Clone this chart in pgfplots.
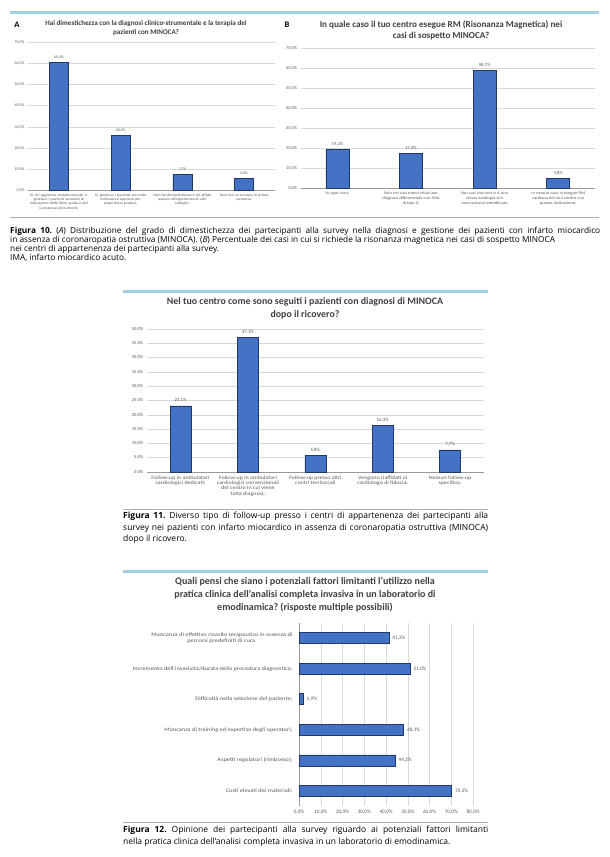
\documentclass[border=0pt]{standalone}
\usepackage{pgfplots}
\pgfplotsset{compat=1.18}
\usepackage{fontspec}
\setmainfont{Carlito}
\newfontfamily\lab[FakeStretch=1.2]{Carlito}
\newfontfamily\capfont{Open Sans}
\frenchspacing
\definecolor{barblue}{HTML}{4472C4}
\definecolor{baredge}{HTML}{1F3864}
\definecolor{sepblue}{HTML}{A3CFE6}
\definecolor{gridgray}{HTML}{D9D9D9}
\definecolor{ticktext}{HTML}{595959}
\definecolor{titletext}{HTML}{404040}
\pgfplotsset{
  /pgf/number format/assume math mode=true,
  vbars/.style={
    scale only axis, anchor=south west,
    ybar, axis lines*=left,
    y axis line style={draw=none},
    x axis line style={draw=gridgray!70!black, line width=0.5pt},
    major tick length=0pt,
    ymajorgrids, grid style={draw=gridgray, line width=0.5pt},
    xtick=data,
    yticklabel={\pgfmathprintnumber[use comma,fixed,fixed zerofill,precision=1]{\tick}\%},
    nodes near coords={\pgfmathprintnumber[use comma,fixed,fixed zerofill,precision=1]{\pgfplotspointmeta}\%},
    every node near coord/.append style={text=ticktext},
    tick label style={text=ticktext},
    xticklabel style={align=center, anchor=north},
    clip=false,
  },
  mybar/.style={fill=barblue, draw=baredge, line width=0.5pt},
}
\begin{document}
\frenchspacing
\begin{tikzpicture}[x=1pt,y=1pt]
\useasboundingbox (0pt,0pt) rectangle (610pt,857pt);
\fill[white] (0pt,0pt) rectangle (610pt,857pt);

% ---------- Figure 10 ----------
\draw[sepblue, line width=3pt] (10pt,844pt) -- (599pt,844pt);
\node[font=\bfseries\fontsize{8.5}{9}\selectfont, text=black] at (17pt,832pt) {A};
\node[font=\bfseries\fontsize{8.5}{9}\selectfont, text=black] at (287pt,832pt) {B};
\node[font=\bfseries\fontsize{7.1}{9}\selectfont, text=titletext, align=center] at (146pt,828.5pt)
  {Hai dimestichezza con la diagnosi clinico-strumentale e la terapia dei\\pazienti con MINOCA?};
\node[font=\bfseries\fontsize{9.1}{11}\selectfont, text=titletext, align=center] at (441pt,826.5pt)
  {In quale caso il tuo centro esegue RM (Risonanza Magnetica) nei\\casi di sospetto MINOCA?};

\begin{axis}[vbars, at={(28pt,666.3pt)}, width=247pt, height=148.7pt,
  xmin=-0.5, xmax=3.5, ymin=0, ymax=70, ytick={0,10,...,70},
  bar width=19pt,
  yticklabel style={font=\fontsize{4}{5}\selectfont},
  every node near coord/.append style={font=\fontsize{3.9}{5}\selectfont},
  xticklabel style={font=\lab\fontsize{3.6}{4.1}\selectfont},
  xticklabels={{Sì, mi aggiorno costantemente, e\\gestisco i pazienti secondo le\\indicazioni delle linee guida e del\\Consensus Document;},
    {Sì, gestisco i pazienti secondo\\indicazioni apprese per\\esperienza pratica;},
    {Non ho dimestichezza e mi affido\\spesso all’esperienza di altri\\colleghi;},
    {Non me ne occupo in prima\\persona;}},
]
\addplot[mybar] coordinates {(0,60.4) (1,26.0) (2,7.7) (3,5.8)};
\end{axis}

\begin{axis}[vbars, at={(300.6pt,669pt)}, width=294.4pt, height=140pt,
  xmin=-0.5, xmax=3.5, ymin=0, ymax=70, ytick={0,10,...,70},
  bar width=23pt,
  yticklabel style={font=\fontsize{4.4}{5.2}\selectfont},
  every node near coord/.append style={font=\fontsize{4.6}{5}\selectfont},
  xticklabel style={font=\lab\fontsize{3.9}{4.9}\selectfont},
  xticklabels={{In ogni caso;},
    {Solo nei casi meno chiari per\\diagnosi differenziale con IMA\\di tipo 2;},
    {Nei casi ove non vi è una\\chiara eziologia e/o\\meccanismo identificato},
    {In nessun caso si esegue RM\\cardiaca nel mio centro con\\questa indicazione;}},
]
\addplot[mybar] coordinates {(0,19.2) (1,17.3) (2,58.7) (3,4.8)};
\end{axis}

\draw[gridgray!80!black, line width=0.6pt] (10pt,640pt) -- (599pt,640pt);
\node[anchor=north west, text width=590pt, align=justify, inner sep=0pt,
  font=\capfont\fontsize{8.3}{9.3}\selectfont] at (10pt,630.5pt)
  {\frenchspacing\textbf{Figura 10.} (\textit{A}) Distribuzione del grado di dimestichezza dei partecipanti alla survey nella diagnosi e gestione dei pazienti con infarto miocardico\linebreak
   in assenza di coronaropatia ostruttiva (MINOCA). (\textit{B}) Percentuale dei casi in cui si richiede la risonanza magnetica nei casi di sospetto MINOCA\\
   nei centri di appartenenza dei partecipanti alla survey.\\
   IMA, infarto miocardico acuto.};

% ---------- Figure 11 ----------
\draw[sepblue, line width=3pt] (123pt,565pt) -- (488pt,565pt);
\node[font=\bfseries\fontsize{9.9}{13}\selectfont, text=titletext, align=center] at (305pt,548.5pt)
  {Nel tuo centro come sono seguiti i pazienti con diagnosi di MINOCA\\dopo il ricovero?};
\begin{axis}[vbars, at={(146.8pt,385pt)}, width=337pt, height=143pt,
  xmin=-0.5, xmax=4.5, ymin=0, ymax=50, ytick={0,5,...,50},
  bar width=21pt,
  yticklabel style={font=\fontsize{4.6}{5.6}\selectfont},
  every node near coord/.append style={font=\fontsize{4.8}{5.5}\selectfont},
  xticklabel style={font=\lab\fontsize{5}{5.4}\selectfont},
  xticklabels={{Follow-up in ambulatori\\cardiologici dedicati;},
    {Follow-up in ambulatori\\cardiologici convenzionali\\del centro in cui viene\\fatta diagnosi;},
    {Follow-up presso altri\\centri territoriali},
    {Vengono riaffidati al\\cardiologo di fiducia;},
    {Nessun follow-up\\specifico;}},
]
\addplot[mybar] coordinates {(0,23.1) (1,47.1) (2,5.8) (3,16.3) (4,7.7)};
\end{axis}
\draw[gridgray!80!black, line width=0.6pt] (123pt,348pt) -- (488pt,348pt);
\node[anchor=north west, text width=365pt, align=justify, inner sep=0pt,
  font=\capfont\fontsize{8.5}{11.6}\selectfont] at (123pt,345pt)
  {\frenchspacing\textbf{Figura 11.} Diverso tipo di follow-up presso i centri di appartenenza dei partecipanti alla\linebreak
   survey nei pazienti con infarto miocardico in assenza di coronaropatia ostruttiva (MINOCA)\linebreak
   dopo il ricovero.};

% ---------- Figure 12 ----------
\draw[sepblue, line width=3pt] (123pt,285pt) -- (488pt,285pt);
\node[font=\bfseries\fontsize{10}{13}\selectfont, text=titletext, align=center] at (305pt,262pt)
  {Quali pensi che siano i potenziali fattori limitanti l’utilizzo nella\\pratica clinica dell’analisi completa invasiva in un laboratorio di\\emodinamica? (risposte multiple possibili)};
\begin{axis}[scale only axis, anchor=south west, at={(299pt,50.7pt)}, width=174pt, height=183.6pt,
  xbar, axis lines*=left,
  x axis line style={draw=none},
  y axis line style={draw=gridgray!70!black, line width=0.5pt},
  major tick length=0pt,
  xmajorgrids, grid style={draw=gridgray, line width=0.5pt},
  xmin=0, xmax=80, xtick={0,10,...,80},
  ymin=-0.5, ymax=5.5, ytick={0,...,5},
  bar width=11pt,
  clip=false,
  tick label style={text=ticktext},
  xticklabel style={font=\fontsize{5.2}{6}\selectfont},
  xticklabel={\pgfmathprintnumber[use comma,fixed,fixed zerofill,precision=1]{\tick}\%},
  yticklabel style={align=center, font=\lab\fontsize{5.3}{6}\selectfont, xshift=-3pt},
  yticklabels={{Costi elevati dei materiali;},
    {Aspetti regolatori (rimborso);},
    {Mancanza di training ed expertise degli operatori;},
    {Difficoltà nella selezione del paziente;},
    {Incremento dell’invasività/durata della procedura diagnostica;},
    {Mancanza di effettivo risvolto terapeutico in assenza di\\percorsi predefiniti di cura.}},
  point meta=x,
  nodes near coords={\pgfmathprintnumber[use comma,fixed,fixed zerofill,precision=1]{\pgfplotspointmeta}\%},
  every node near coord/.append style={text=ticktext, font=\fontsize{5.2}{6}\selectfont},
]
\addplot[mybar] coordinates {(70.2,0) (44.2,1) (48.1,2) (1.9,3) (51.0,4) (41.3,5)};
\end{axis}
\draw[gridgray!80!black, line width=0.6pt] (123pt,35pt) -- (488pt,35pt);
\node[anchor=north west, text width=365pt, align=justify, inner sep=0pt,
  font=\capfont\fontsize{8.5}{12.3}\selectfont] at (123pt,31.5pt)
  {\frenchspacing\textbf{Figura 12.} Opinione dei partecipanti alla survey riguardo ai potenziali fattori limitanti\linebreak
   nella pratica clinica dell’analisi completa invasiva in un laboratorio di emodinamica.};
\end{tikzpicture}
\end{document}
